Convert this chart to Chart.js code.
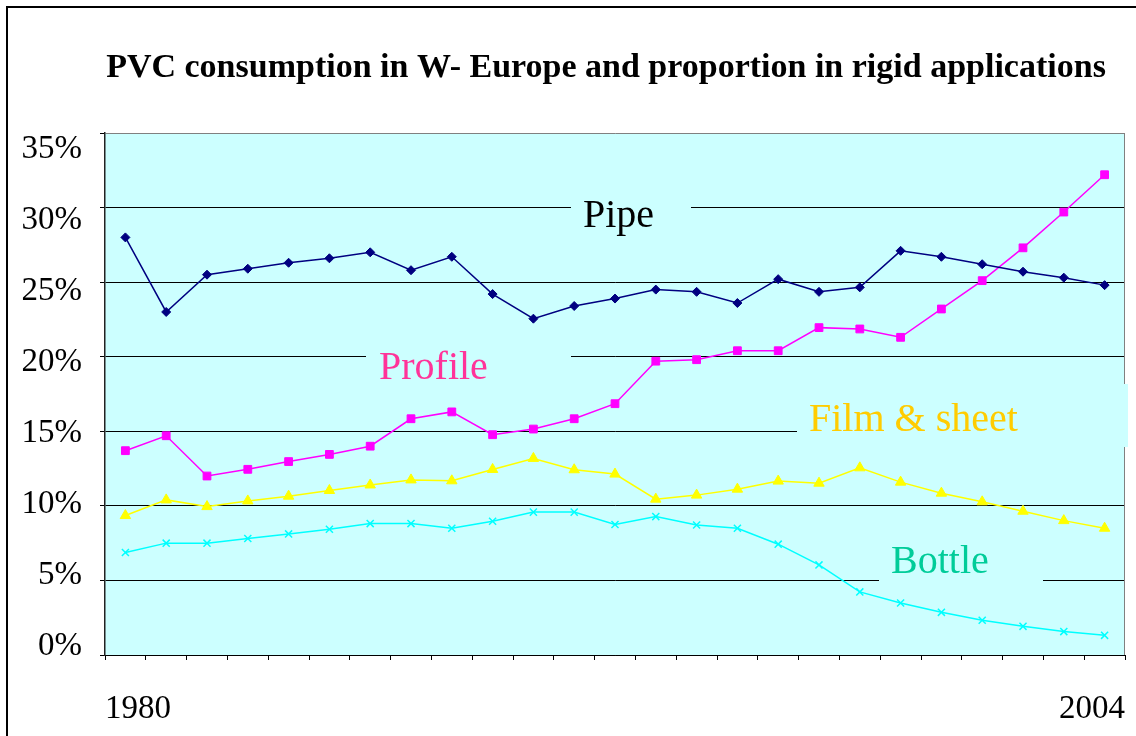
<!DOCTYPE html>
<html>
<head>
<meta charset="utf-8">
<script src="https://cdn.jsdelivr.net/npm/chart.js@4.4.1/dist/chart.umd.min.js"></script>
<style>
  html, body { margin: 0; padding: 0; background: #fff; overflow: hidden; }
  canvas { display: block; }
</style>
</head>
<body>
<canvas id="myChart" width="1136" height="736"></canvas>
<script>
// data (percent)
var years = ['1980','1981','1982','1983','1984','1985','1986','1987','1988','1989','1990','1991','1992',
             '1993','1994','1995','1996','1997','1998','1999','2000','2001','2002','2003','2004'];
var pipe = [28.0,23.0,25.5,25.9,26.3,26.6,27.0,25.8,26.7,24.2,22.55,23.4,23.9,24.5,24.35,23.6,25.2,24.35,24.65,27.1,26.7,26.2,25.7,25.3,24.8];
var profile = [13.7,14.7,12.0,12.45,12.97,13.45,14.0,15.84,16.3,14.77,15.15,15.84,16.85,19.7,19.8,20.4,20.4,21.95,21.86,21.3,23.2,25.1,27.3,29.7,32.2];
var film = [9.35,10.4,9.95,10.33,10.65,11.03,11.4,11.74,11.68,12.44,13.18,12.42,12.13,10.45,10.72,11.12,11.66,11.52,12.55,11.59,10.85,10.27,9.64,9.01,8.5];
var bottle = [6.87,7.5,7.5,7.81,8.12,8.43,8.81,8.81,8.5,8.97,9.58,9.58,8.75,9.28,8.72,8.5,7.43,6.04,4.23,3.49,2.86,2.33,1.92,1.57,1.32];
var yTicks = [0,5,10,15,20,25,30,35];
var titleText = 'PVC consumption in W- Europe and proportion in rigid applications';

var serif = "'Liberation Serif', 'Times New Roman', Times, serif";

// series names written inside the plot, each on its own patch of background
var seriesLabels = [
  {text: 'Pipe',         color: '#000000', x: 583, y: 227, box: [571, 186, 120, 48]},
  {text: 'Profile',      color: '#FF3399', x: 379, y: 379, box: [366, 336, 205, 48]},
  {text: 'Film & sheet', color: '#FFCC00', x: 809, y: 431, box: [797, 384, 331, 63]},
  {text: 'Bottle',       color: '#00CC99', x: 891, y: 573, box: [879, 556, 164, 48]}
];

var decor = {
  id: 'decor',
  beforeDraw: function(chart) {
    var ctx = chart.ctx, a = chart.chartArea;
    ctx.save();
    ctx.fillStyle = '#CCFFFF';
    ctx.fillRect(a.left, a.top, a.right - a.left, a.bottom - a.top);
    ctx.restore();
  },
  beforeDatasetsDraw: function(chart) {
    var ctx = chart.ctx, a = chart.chartArea;
    ctx.save();
    ctx.strokeStyle = '#808080';
    ctx.lineWidth = 1;
    ctx.beginPath();
    ctx.moveTo(a.right - 0.5, a.top);
    ctx.lineTo(a.right - 0.5, a.bottom);
    ctx.stroke();
    ctx.font = '40px ' + serif;
    ctx.textBaseline = 'alphabetic';
    ctx.textAlign = 'left';
    seriesLabels.forEach(function(l) {
      ctx.fillStyle = '#CCFFFF';
      ctx.fillRect(l.box[0], l.box[1], l.box[2], l.box[3]);
      ctx.fillStyle = l.color;
      ctx.fillText(l.text, l.x, l.y);
    });
    ctx.restore();
  },
  afterDraw: function(chart) {
    var ctx = chart.ctx;
    ctx.save();
    ctx.fillStyle = '#000';
    ctx.font = 'bold 34px ' + serif;
    ctx.textAlign = 'center';
    ctx.textBaseline = 'alphabetic';
    ctx.fillText(titleText, 606, 77);
    // outer frame
    ctx.strokeStyle = '#000';
    ctx.lineWidth = 2;
    ctx.strokeRect(7, 7, 1300, 1300);
    ctx.restore();
  }
};

function noPad(s) { s.paddingLeft = 0; s.paddingRight = 0; s.paddingTop = 0; s.paddingBottom = 0; }

var ctx = document.getElementById('myChart').getContext('2d');
var myChart = new Chart(ctx, {
  type: 'line',
  data: {
    labels: years,
    datasets: [{
      label: 'Pipe', data: pipe, xAxisID: 'x', yAxisID: 'y',
      borderColor: '#000080', backgroundColor: '#000080', borderWidth: 1.5,
      pointStyle: 'rectRot', pointRadius: 4.5, pointBorderWidth: 1
    }, {
      label: 'Profile', data: profile, xAxisID: 'x', yAxisID: 'y',
      borderColor: '#FF00FF', backgroundColor: '#FF00FF', borderWidth: 1.5,
      pointStyle: 'rect', pointRadius: 5.5, pointBorderWidth: 1
    }, {
      label: 'Film & sheet', data: film, xAxisID: 'x', yAxisID: 'y',
      borderColor: '#FFFF00', backgroundColor: '#FFFF00', borderWidth: 1.5,
      pointStyle: 'triangle', pointRadius: 6, pointBorderWidth: 1
    }, {
      label: 'Bottle', data: bottle, xAxisID: 'x', yAxisID: 'y',
      borderColor: '#00FFFF', backgroundColor: '#00FFFF', borderWidth: 1.5,
      pointStyle: 'crossRot', pointRadius: 5, pointBorderWidth: 1.5
    }]
  },
  options: {
    responsive: false,
    animation: false,
    devicePixelRatio: 1,
    layout: { padding: { top: 133, right: 11, left: 0, bottom: 0 } },
    plugins: { legend: { display: false }, tooltip: { enabled: false } },
    elements: { line: { tension: 0 } },
    scales: {
      x: {
        type: 'category',
        position: 'bottom',
        offset: true,
        grid: { offset: true, drawOnChartArea: false, tickLength: 5, tickColor: '#000', tickWidth: 1 },
        border: { color: '#000', width: 1 },
        ticks: { display: false },
        afterFit: function(s) { s.height = 5; noPad(s); }
      },
      xl: {
        type: 'linear',
        position: 'bottom',
        min: 0, max: 1,
        grid: { display: false, drawTicks: false },
        border: { display: false },
        ticks: {
          stepSize: 1, align: 'inner', padding: 30, color: '#000',
          font: { family: serif, size: 33 },
          callback: function(v) { return v === 0 ? years[0] : years[years.length - 1]; }
        },
        afterFit: function(s) { s.height = 76; noPad(s); }
      },
      y: {
        type: 'linear',
        position: 'left',
        weight: 0,
        min: 0, max: 35,
        ticks: { stepSize: 5, display: false },
        grid: {
          color: function(c) { return c.tick && c.tick.value === 35 ? '#808080' : '#000'; },
          lineWidth: 1, tickLength: 5, tickColor: '#000'
        },
        border: { color: '#222', width: 1.5 },
        afterFit: function(s) { s.width = 5; noPad(s); }
      },
      yl: {
        type: 'linear',
        position: 'left',
        weight: 1,
        min: -0.6, max: 36.12,
        grid: { display: false, drawTicks: false },
        border: { display: false },
        ticks: {
          padding: 18, color: '#000',
          font: { family: serif, size: 33 },
          callback: function(v) { return v + '%'; }
        },
        afterBuildTicks: function(s) { s.ticks = yTicks.map(function(v) { return {value: v}; }); },
        afterFit: function(s) { s.width = 100; noPad(s); }
      }
    }
  },
  plugins: [decor]
});
</script>
</body>
</html>
